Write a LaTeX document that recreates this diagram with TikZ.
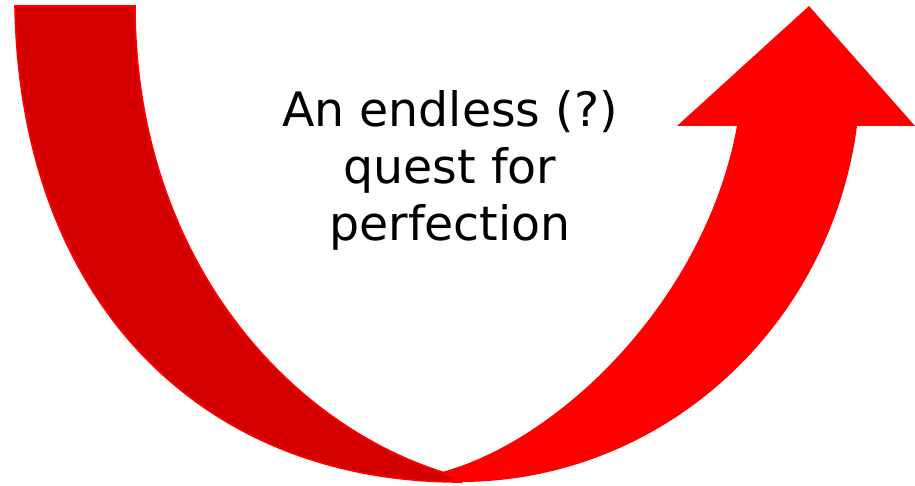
\documentclass[tikz,border=0pt]{standalone}
\usepackage{fontspec}
\setmainfont{DejaVu Sans}
\definecolor{darkband}{HTML}{D40000}
\definecolor{brightband}{HTML}{FF0000}

\begin{document}
\begin{tikzpicture}[x=0.5pt, y=-0.5pt,
  leftband/.style={fill=darkband, draw=brightband, line width=0.8pt},
  rightband/.style={fill=brightband},
  quest/.style={font=\fontsize{23.7}{28.5}\selectfont, align=center, inner sep=0pt}
]
  \useasboundingbox (0,0) rectangle (915,486);
  % falling half
  \path[leftband] (15,6) .. controls (20,300) and (200,482) .. (460,482)
    -- (442,472) .. controls (280,420) and (135,250) .. (135,6) -- cycle;
  % rising half with the head
  \path[rightband] (442,472) .. controls (560,440) and (705,300) .. (737,126)
    -- (677,126) -- (809,6) -- (915,126) -- (857,126)
    .. controls (830,330) and (660,482) .. (460,482) -- cycle;
  \node[quest] (title) at (450,170) {An endless (?)\\quest for\\perfection};
\end{tikzpicture}
\end{document}
